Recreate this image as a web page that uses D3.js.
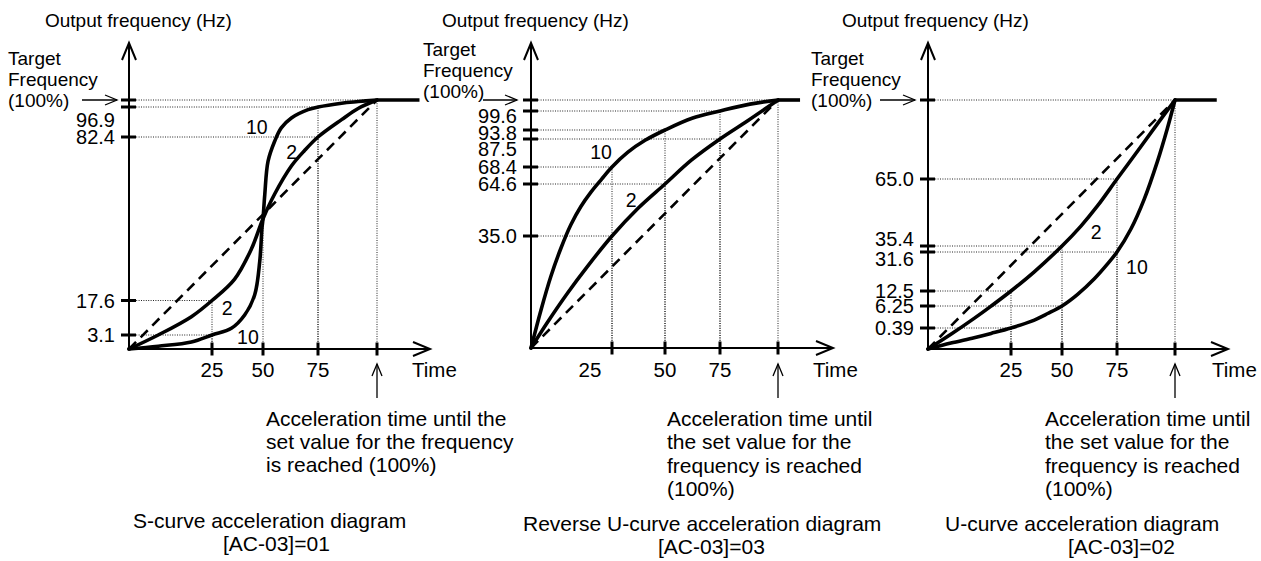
<!DOCTYPE html>
<html><head><meta charset="utf-8">
<script src="https://cdn.jsdelivr.net/npm/d3@7/dist/d3.min.js"></script>
<style>
body{margin:0;background:#fff}
svg{display:block}
text{font-family:"Liberation Sans",Arial,Helvetica,sans-serif;fill:#000}
</style>
</head><body>
<svg id="chart" width="1261" height="561"></svg>
<script>
// ---------------- DATA ----------------
const timeTicks = [0, 25, 50, 75, 100];
const timeTickLabels = ["25", "50", "75"];          // 100 % is marked with an arrow
const linearRamp = [[0, 0], [100, 100]];

// S-curve  [AC-03]=01
const sTicks = [0, 3.1, 17.6, 82.4, 96.9, 100];
const sTickLabels = ["3.1", "17.6", "82.4", "96.9"];
const sCurve10 = [[0,0],[8.8,0.62],[18.8,1.55],[25,3.1],[34.5,5.9],[41,11.5],[45.9,19.8],[48.4,33.1],[49.5,46.3],[50,50],[50.8,59.5],[52.3,72.8],[55.3,80.7],[58.3,86.8],[62.9,91.6],[70.5,95.6],[75,96.9],[85,98.6],[92,99.3],[100,100]];
const sCurve2  = [[0,0],[8.8,3.1],[18.8,10.8],[25,17.6],[36.1,26.1],[44.3,38],[50,50],[55.3,59.8],[62.9,70.9],[68.9,77.05],[75,82.4],[85,90.8],[92,96.2],[100,100]];
const sMarks   = [[25,3.1],[25,17.6],[50,50],[75,82.4],[75,96.9],[100,100]];

// Reverse U-curve  [AC-03]=03
const rTicks = [0, 35.0, 64.6, 68.4, 87.5, 93.8, 99.6, 100];
const rTickLabels = ["35.0", "64.6", "68.4", "87.5", "93.8", "99.6"];
const rCurve10 = [[0,0],[3.09,11.9],[6.17,22.5],[9.26,31.25],[12.3,41.4],[15.4,51.8],[18.5,60.0],[21.8,65.7],[25,68.4],[32.5,78.5],[40.6,86.6],[50,93.8],[62.3,97.4],[75,99.6],[87.9,99.85],[100,100]];
const rCurve2  = [[0,0],[5.1,8.06],[11.3,17.2],[17.5,25.6],[25,35],[37.3,50.8],[50,64.6],[62.1,73.2],[75,87.5],[87.1,96.7],[100,100]];
const rMarks   = [[25,35],[25,68.4],[50,64.6],[50,93.8],[75,87.5],[75,99.6],[100,100]];

// U-curve  [AC-03]=02
const uTicks = [0, 0.39, 6.25, 12.5, 31.6, 35.4, 65.0, 100];
const uTickLabels = ["0.39", "6.25", "12.5", "31.6", "35.4", "65.0"];
const uCurve10 = [[0,0],[6.9,0.11],[13.9,0.21],[19,0.29],[25,0.39],[34.8,2.15],[43,4.25],[50,6.25],[57.1,11.1],[64.7,18.5],[70.8,25.9],[75,31.6],[81,42.9],[86.7,56],[92.4,72.7],[96.7,87.4],[100,100]];
const uCurve2  = [[0,0],[6.9,0.273],[13.9,2.95],[19,6.22],[25,12.5],[36.4,21.9],[50,35.4],[58.6,44.2],[66.2,53.2],[75,65],[83.9,77.4],[92.4,89.4],[100,100]];
const uMarks   = [[25,0.39],[25,12.5],[50,6.25],[50,35.4],[75,31.6],[75,65],[100,100]];

const axisTitle = "Output frequency (Hz)";
const targetText = ["Target", "Frequency", "(100%)"];
const timeText = "Time";
const noteS = ["Acceleration time until the", "set value for the frequency", "is reached (100%)"];
const noteR = ["Acceleration time until", "the set value for the", "frequency is reached", "(100%)"];
const noteU = ["Acceleration time until", "the set value for the", "frequency is reached", "(100%)"];
const capS = ["S-curve acceleration diagram", "[AC-03]=01"];
const capR = ["Reverse U-curve acceleration diagram", "[AC-03]=03"];
const capU = ["U-curve acceleration diagram", "[AC-03]=02"];
const curveNames = ["10", "2"];

// ---------------- LAYOUT ----------------
const panels = [
  { ticks: sTicks, labels: sTickLabels, c10: sCurve10, c2: sCurve2, marks: sMarks, note: noteS, cap: capS,
    xPx: [129,212,263,318,377], yPx: [349,335,300.5,137,107,100],
    xEnd: 430, hold: 118, titleX: 45, targetX: 8, targetBase: [65,86,107], arrow: [82,117],
    timeX: 412, noteX: 266, noteBase: 425.5, capX: [133,223], capBase: [528,551],
    labelDy: {"96.9": 13}, xLabelDx: {}, lab10: [[47,87],[42.6,2.66]], lab2: [[63,76.5],[32.4,14.4]] },
  { ticks: rTicks, labels: rTickLabels, c10: rCurve10, c2: rCurve2, marks: rMarks, note: noteR, cap: capR,
    xPx: [531,612,665,720,778], yPx: [348,236,184,167,139,130,111,100],
    xEnd: 833, hold: 109.5, titleX: 442, targetX: 423, targetBase: [56,77,98], arrow: [483,517],
    timeX: 813, noteX: 667, noteBase: 426, capX: [523,658], capBase: [531,554],
    labelDy: {"99.6": 5, "93.8": 3, "87.5": 10}, xLabelDx: {"25": -22}, lab10: [[21.6,78.6]], lab2: [[34,55.5]] },
  { ticks: uTicks, labels: uTickLabels, c10: uCurve10, c2: uCurve2, marks: uMarks, note: noteU, cap: capU,
    xPx: [928,1011,1062,1117,1175], yPx: [349,328,306,291,252,246,179,100],
    xEnd: 1228, hold: 118, titleX: 842, targetX: 811, targetBase: [65,86,107], arrow: [880,915],
    timeX: 1212, noteX: 1045, noteBase: 426, capX: [945,1068], capBase: [531,554],
    labelDy: {"35.4": -7, "31.6": 7}, xLabelDx: {}, lab10: [[83.6,24.3]], lab2: [[65.5,41.6]] }
];

const svg = d3.select("#chart");
const axisTop = 43;

panels.forEach(p => {
  const g = svg.append("g");
  const x = d3.scaleLinear().domain(timeTicks).range(p.xPx);
  const y = d3.scaleLinear().domain(p.ticks).range(p.yPx);
  const x0 = x(0), y0 = y(0);

  // dotted guide lines
  const tickSet = new Set(p.ticks);
  p.marks.forEach(([t, f]) => {
    if (tickSet.has(f)) {
      g.append("line").attr("x1", x0).attr("x2", x(t)).attr("y1", y(f)).attr("y2", y(f))
        .attr("stroke", "#222").attr("stroke-width", 1).attr("stroke-dasharray", "1,1.4");
    }
    g.append("line").attr("x1", x(t)).attr("x2", x(t)).attr("y1", y0).attr("y2", y(f))
      .attr("stroke", "#222").attr("stroke-width", 1).attr("stroke-dasharray", "1,1.4");
  });

  // axes
  g.append("line").attr("x1", x0).attr("x2", x0).attr("y1", y0).attr("y2", axisTop)
    .attr("stroke", "#000").attr("stroke-width", 2);
  g.append("path").attr("d", `M${x0-7},${axisTop+17}L${x0},${axisTop}L${x0+7},${axisTop+17}`)
    .attr("fill", "none").attr("stroke", "#000").attr("stroke-width", 2);
  g.append("line").attr("x1", x0).attr("x2", p.xEnd).attr("y1", y0).attr("y2", y0)
    .attr("stroke", "#000").attr("stroke-width", 2);
  g.append("path").attr("d", `M${p.xEnd-17},${y0-7}L${p.xEnd},${y0}L${p.xEnd-17},${y0+7}`)
    .attr("fill", "none").attr("stroke", "#000").attr("stroke-width", 2);

  // y ticks
  p.ticks.slice(1).forEach(v => {
    g.append("line").attr("x1", x0 - 8).attr("x2", x0 + 7).attr("y1", y(v)).attr("y2", y(v))
      .attr("stroke", "#000").attr("stroke-width", 3);
  });
  p.labels.forEach((lab, i) => {
    const v = p.ticks[i + 1];
    g.append("text").attr("x", x0 - 14).attr("y", y(v) + 7.2 + (p.labelDy[lab] || 0))
      .attr("text-anchor", "end").attr("font-size", "20px").text(lab);
  });

  // x ticks
  timeTicks.slice(1).forEach(v => {
    g.append("line").attr("x1", x(v)).attr("x2", x(v)).attr("y1", y0 - 6.5).attr("y2", y0 + 6.5)
      .attr("stroke", "#000").attr("stroke-width", 3);
  });
  timeTickLabels.forEach((lab, i) => {
    const v = timeTicks[i + 1];
    g.append("text").attr("x", x(v) + (p.xLabelDx[lab] || 0)).attr("y", 377)
      .attr("text-anchor", "middle").attr("font-size", "20.5px").text(lab);
  });
  g.append("text").attr("x", p.timeX).attr("y", 377).attr("font-size", "20.5px").text(timeText);

  // linear reference (dashed)
  const line = d3.line().x(d => x(d[0])).y(d => y(d[1]));
  g.append("path").attr("d", line(linearRamp)).attr("fill", "none")
    .attr("stroke", "#000").attr("stroke-width", 2.6).attr("stroke-dasharray", "10,6.5");

  // curves
  const curve = d3.line().x(d => x(d[0])).y(d => y(d[1])).curve(d3.curveCatmullRom.alpha(0.5));
  [p.c10, p.c2].forEach(c => {
    g.append("path").attr("d", curve(c)).attr("fill", "none")
      .attr("stroke", "#000").attr("stroke-width", 3.6).attr("stroke-linecap", "round")
      .attr("stroke-linejoin", "round");
  });
  // hold at target
  g.append("path").attr("d", line([[100, 100], [p.hold, 100]])).attr("fill", "none")
    .attr("stroke", "#000").attr("stroke-width", 3.6);

  // curve labels
  p.lab10.forEach(([t, f]) => g.append("text").attr("x", x(t)).attr("y", y(f) + 7)
    .attr("text-anchor", "middle").attr("font-size", "19.5px").text(curveNames[0]));
  p.lab2.forEach(([t, f]) => g.append("text").attr("x", x(t)).attr("y", y(f) + 7)
    .attr("text-anchor", "middle").attr("font-size", "19.5px").text(curveNames[1]));

  // axis title
  g.append("text").attr("x", p.titleX).attr("y", 27).attr("font-size", "19px").text(axisTitle);

  // target frequency label + arrow
  targetText.forEach((t, i) => g.append("text").attr("x", p.targetX).attr("y", p.targetBase[i])
    .attr("font-size", "19px").text(t));
  const ty = y(100);
  g.append("line").attr("x1", p.arrow[0]).attr("x2", p.arrow[1]).attr("y1", ty).attr("y2", ty)
    .attr("stroke", "#000").attr("stroke-width", 1.3);
  g.append("path").attr("d", `M${p.arrow[1]-12},${ty-5}L${p.arrow[1]},${ty}L${p.arrow[1]-12},${ty+5}`)
    .attr("fill", "none").attr("stroke", "#000").attr("stroke-width", 1.3);

  // acceleration-time arrow
  const ax = x(100);
  g.append("line").attr("x1", ax).attr("x2", ax).attr("y1", 364).attr("y2", 398)
    .attr("stroke", "#000").attr("stroke-width", 1.3);
  g.append("path").attr("d", `M${ax-5},${376}L${ax},${364}L${ax+5},${376}`)
    .attr("fill", "none").attr("stroke", "#000").attr("stroke-width", 1.3);

  // note
  p.note.forEach((t, i) => g.append("text").attr("x", p.noteX).attr("y", p.noteBase + i * 23.3)
    .attr("font-size", "21px").text(t));
  // caption
  p.cap.forEach((t, i) => g.append("text").attr("x", p.capX[i]).attr("y", p.capBase[i])
    .attr("font-size", "21px").text(t));
});
</script>
</body></html>
